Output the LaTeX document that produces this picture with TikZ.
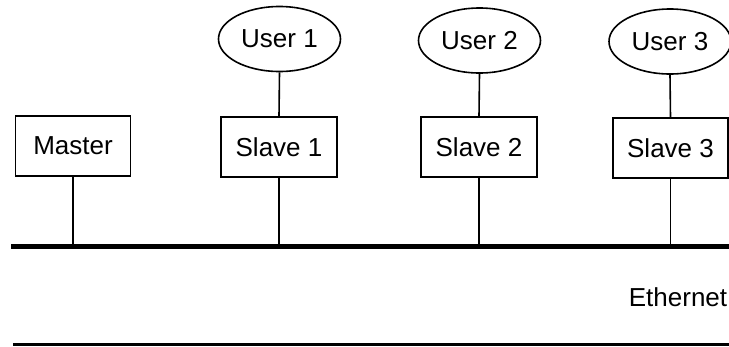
\documentclass[tikz,border=0pt]{standalone}
\usepackage{fontspec}
\setmainfont{Liberation Sans}
\usetikzlibrary{shapes.geometric}
\begin{document}
\begin{tikzpicture}[x=1bp,y=-1bp,
  lbl/.style={font=\fontsize{26bp}{30bp}\selectfont},
  box/.style={draw,lbl,line width=1.6bp,minimum height=60bp,inner sep=0pt},
  usr/.style={draw,lbl,ellipse,line width=1.6bp,minimum width=122bp,minimum height=65bp,inner sep=0pt},
  link/.style={line width=1.6bp},
  bus/.style={line width=4.3bp}]
\useasboundingbox (0,0) rectangle (729,346);
\node[box,minimum width=115bp] (m) at (73,146) {Master};
\node[box,minimum width=116bp] (s1) at (279,147) {Slave 1};
\node[box,minimum width=116bp] (s2) at (479,147) {Slave 2};
\node[box,minimum width=115bp] (s3) at (670.5,148) {Slave 3};
\node[usr] (u1) at (279.5,39) {User 1};
\node[usr] (u2) at (479.5,40.5) {User 2};
\node[usr] (u3) at (670,41.5) {User 3};
\coordinate (busL) at (11,246.5);
\coordinate (busR) at (729,246.5);
\draw[bus] (busL) -- (busR);
\coordinate (lowL) at (13,344);
\coordinate (lowR) at (729,344);
\draw[line width=3bp] (lowL) -- (lowR);
\node[lbl] (eth) at (678,297) {Ethernet};
\draw[link] (u1.south) -- (s1.north);
\draw[link] (u2.south) -- (s2.north);
\draw[link] (u3.south) -- (s3.north);
\draw[link] (m.south) -- (m.south |- busL);
\draw[link] (s1.south) -- (s1.south |- busL);
\draw[link] (s2.south) -- (s2.south |- busL);
\draw[link] (s3.south) -- (s3.south |- busL);
\end{tikzpicture}
\end{document}
